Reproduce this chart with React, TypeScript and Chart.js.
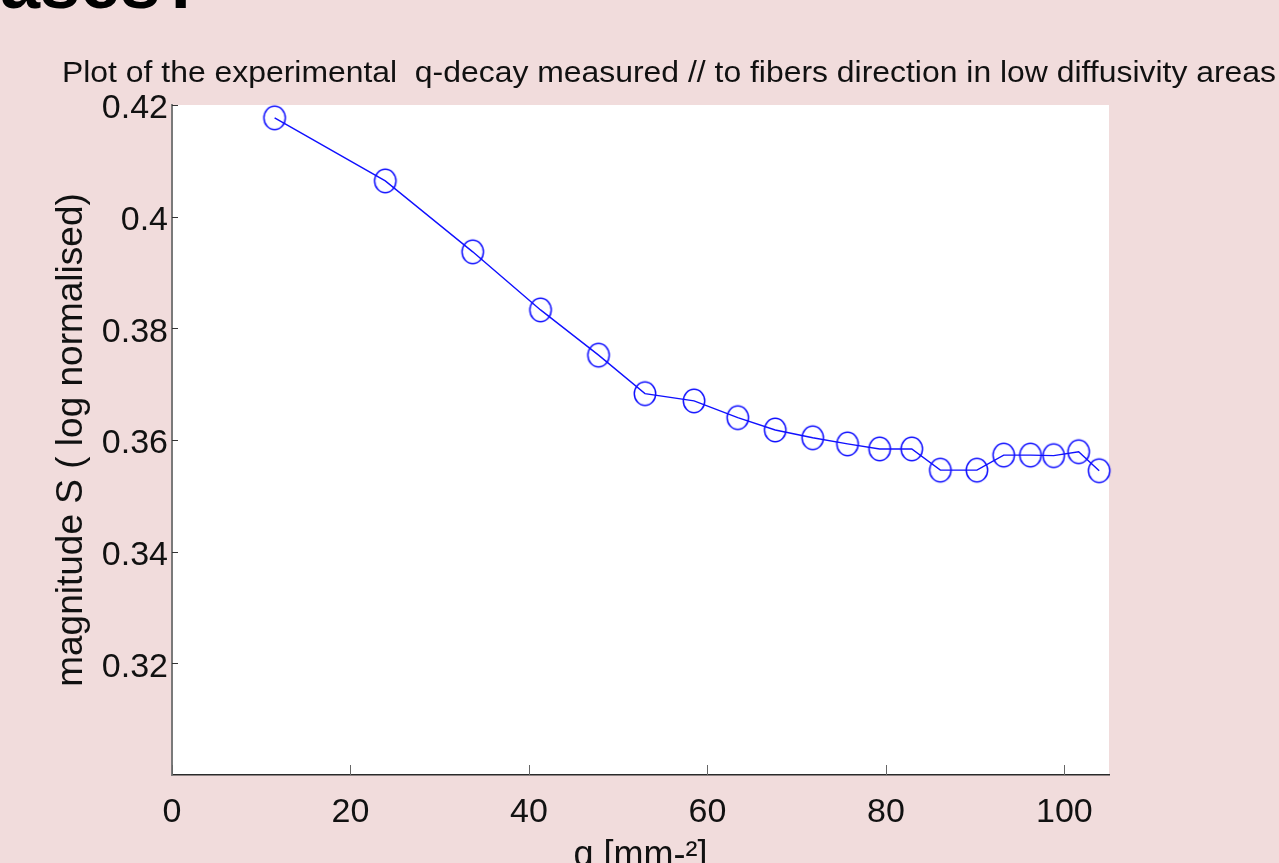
import React, { useEffect, useRef } from "react";
import { Chart, registerables } from "chart.js";

Chart.register(...registerables);

// ---- data ----
const qValues = [11.5, 23.9, 33.7, 41.3, 47.8, 53.0, 58.5, 63.4, 67.6, 71.8, 75.7, 79.3, 82.9, 86.1, 90.2, 93.2, 96.2, 98.8, 101.6, 103.9];
const sValues = [0.4177, 0.4064, 0.3937, 0.3833, 0.3752, 0.3683, 0.367, 0.364, 0.3618, 0.3604, 0.3593, 0.3584, 0.3584, 0.3546, 0.3546, 0.3573, 0.3573, 0.3572, 0.3579, 0.3545];
const xTickValues = [0, 20, 40, 60, 80, 100];
const yTickValues = [0.32, 0.34, 0.36, 0.38, 0.4, 0.42];
const xMin = 0;
const xMax = 105;
const yMin = 0.3;
const yMax = 0.42;

const chartTitle = "Plot of the experimental  q-decay measured // to fibers direction in low diffusivity areas";
const xAxisTitle = "q [mm-²]";
const yAxisTitle = "magnitude S ( log normalised)";
const slideHeading = "cases?";

const FONT = "'Liberation Sans', Arial, Helvetica, sans-serif";
const BLUE = "#1010ff";

function makeEllipse(): HTMLCanvasElement {
  const c = document.createElement("canvas");
  c.width = 26;
  c.height = 28;
  const g = c.getContext("2d")!;
  g.strokeStyle = BLUE;
  g.lineWidth = 1.5;
  g.beginPath();
  g.ellipse(13, 14, 10.7, 11.8, 0, 0, Math.PI * 2);
  g.stroke();
  return c;
}

const decorPlugin = {
  id: "decor",
  beforeDraw(chart: any) {
    const { ctx, chartArea: a } = chart;
    ctx.save();
    ctx.fillStyle = "#ffffff";
    ctx.fillRect(a.left, a.top, a.right - a.left, a.bottom - a.top);
    ctx.restore();
  },
  afterDraw(chart: any) {
    const { ctx, chartArea: a, scales } = chart;
    ctx.save();
    ctx.strokeStyle = "#666";
    ctx.lineWidth = 1;
    for (const v of xTickValues) {
      const px = Math.round(scales.x.getPixelForValue(v)) + 0.5;
      ctx.beginPath();
      ctx.moveTo(px, a.bottom);
      ctx.lineTo(px, a.bottom - 10);
      ctx.stroke();
    }
    ctx.strokeStyle = "#333";
    for (const v of yTickValues) {
      const py = Math.round(scales.y.getPixelForValue(v)) + 0.5;
      ctx.beginPath();
      ctx.moveTo(a.left, py);
      ctx.lineTo(a.left + 6, py);
      ctx.stroke();
    }
    // chart title (slightly stretched horizontally like the reference)
    ctx.fillStyle = "#111";
    ctx.font = `30px ${FONT}`;
    ctx.textAlign = "left";
    ctx.textBaseline = "alphabetic";
    const w = ctx.measureText(chartTitle).width;
    ctx.translate(62, 82);
    ctx.scale(1214 / w, 1);
    ctx.fillText(chartTitle, 0, 0);
    ctx.restore();
  },
};

export default function App() {
  const ref = useRef<HTMLCanvasElement | null>(null);

  useEffect(() => {
    if (!ref.current) return;
    const marker = makeEllipse();
    const chart = new Chart(ref.current, {
      type: "line",
      data: {
        datasets: [
          {
            label: "S",
            data: qValues.map((q, i) => ({ x: q, y: sValues[i] })),
            borderColor: BLUE,
            borderWidth: 1.4,
            pointStyle: marker as any,
            pointRadius: 11,
            pointHoverRadius: 11,
            tension: 0,
            fill: false,
            clip: false as any,
          },
        ],
      },
      options: {
        animation: false,
        responsive: false,
        events: [],
        layout: { padding: { left: 0, right: 170, top: 105, bottom: 0 } },
        plugins: { legend: { display: false }, tooltip: { enabled: false }, title: { display: false } },
        scales: {
          x: {
            type: "linear",
            min: xMin,
            max: xMax,
            afterFit: (s: any) => {
              s.height = 88;
            },
            afterBuildTicks: (s: any) => {
              s.ticks = xTickValues.map((v) => ({ value: v }));
            },
            grid: { display: false, drawTicks: false },
            border: { display: true, color: "#2a2a2a", width: 1.5 },
            ticks: {
              padding: 17,
              color: "#111",
              font: { family: FONT, size: 34 },
              maxRotation: 0,
              callback: (v: any) => String(v),
            },
            title: {
              display: true,
              text: xAxisTitle,
              color: "#111",
              font: { family: FONT, size: 36 },
              padding: { top: 0, bottom: -15 },
            },
          },
          y: {
            type: "linear",
            min: yMin,
            max: yMax,
            afterFit: (s: any) => {
              s.width = 172;
            },
            afterBuildTicks: (s: any) => {
              s.ticks = yTickValues.map((v) => ({ value: v }));
            },
            grid: { display: false, drawTicks: false },
            border: { display: true, color: "#7a7a7a", width: 2 },
            ticks: {
              padding: 4,
              labelOffset: 4,
              color: "#111",
              font: { family: FONT, size: 34 },
              callback: (v: any) => String(Number(Number(v).toFixed(2))),
            },
            title: {
              display: true,
              text: yAxisTitle,
              color: "#111",
              font: { family: FONT, size: 37 },
              padding: { top: 50, bottom: 0 },
            },
          },
        },
      },
      plugins: [decorPlugin],
    });
    return () => chart.destroy();
  }, []);

  return (
    <div
      style={{
        position: "absolute",
        left: 0,
        top: 0,
        width: 1279,
        height: 863,
        background: "#f1dcdc",
        overflow: "hidden",
      }}
    >
      <canvas ref={ref} width={1279} height={863} style={{ display: "block" }} />
      <div
        style={{
          position: "absolute",
          left: -40,
          top: -53,
          fontFamily: FONT,
          fontWeight: "bold",
          fontSize: 72,
          lineHeight: "72px",
          color: "#000",
          whiteSpace: "nowrap",
        }}
      >
        {slideHeading}
      </div>
    </div>
  );
}
